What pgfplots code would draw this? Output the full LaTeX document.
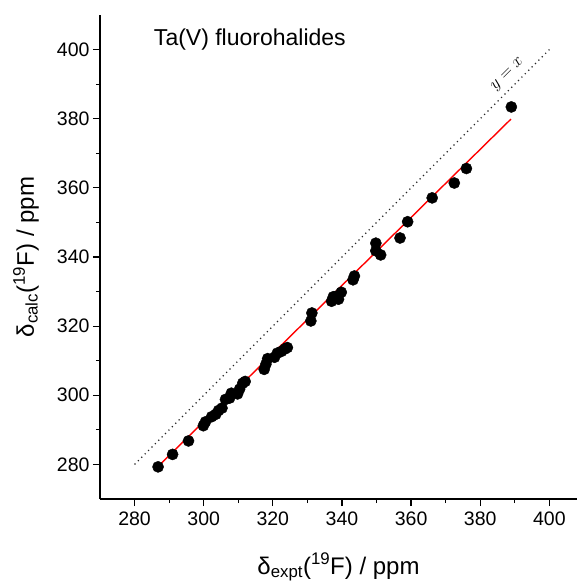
\documentclass[border=0pt]{standalone}
\usepackage{pgfplots}
\pgfplotsset{compat=1.18}
\usepackage{fontspec}
\setmainfont{Liberation Sans}
\begin{document}
\begin{tikzpicture}
\begin{axis}[
  scale only axis, width=477pt, height=484pt,
  xmin=270, xmax=408, ymin=270, ymax=410,
  axis x line*=bottom, axis y line*=left,
  axis line style={line width=1.2pt,-},
  xtick={280,300,...,400}, ytick={280,300,...,400},
  minor x tick num=1, minor y tick num=1,
  tick align=outside,
  major tick length=7pt, minor tick length=4pt,
  every tick/.style={line width=1.2pt, black},
  /pgf/number format/assume math mode=true,
  ticklabel style={font=\fontsize{19.5}{22}\selectfont},
  xticklabel style={yshift=-2pt},
  every axis x label/.style={at={(axis description cs:0.5,-0.155)}, anchor=base},
  every axis y label/.style={at={(axis description cs:-0.1384,0.5)}, anchor=base, rotate=90},
  label style={font=\fontsize{24}{28}\selectfont},
  xlabel={δ\textsubscript{expt}(\textsuperscript{19}F) / ppm},
  ylabel={δ\textsubscript{calc}(\textsuperscript{19}F) / ppm},
  clip=false,
]
\addplot[black!85, line width=1.2pt, dash pattern=on 1.2pt off 3.6pt] coordinates {(280,280) (400,400)};
\addplot[only marks, mark=*, mark size=5.6pt, black] table {
x y
286.8 279.3
291.0 282.9
295.6 286.8
299.9 291.2
300.5 292.3
302.3 293.8
303.5 294.5
304.3 295.6
305.3 296.3
306.3 298.8
307.5 299.2
308.0 300.6
309.8 300.4
310.4 301.8
311.3 303.5
312.0 304.0
317.5 307.5
318.0 309.0
318.5 310.6
320.5 311.0
321.3 312.2
322.5 312.7
323.5 313.4
324.2 313.8
331.0 321.5
331.3 323.8
337.0 327.2
337.5 328.5
338.2 328.6
339.0 327.8
339.8 329.8
343.2 333.4
343.6 334.5
349.8 344.0
349.8 341.8
351.2 340.6
356.8 345.5
359.0 350.2
366.1 357.1
372.5 361.4
376.0 365.6
389.0 383.4
};
\addplot[red, line width=1.4pt] coordinates {(286.8,279.4) (388.9,379.9)};
\node[anchor=base west, font=\fontsize{23}{27}\selectfont] at (axis cs:284.6,401.2) {Ta(V) fluorohalides};
\node[rotate=45, anchor=south, inner sep=6pt, font=\fontsize{19}{22}\selectfont] at (axis cs:390.4,390.4) {$y = x$};
\end{axis}
\pgfresetboundingbox
\path[use as bounding box] ([xshift=-100pt,yshift=-83pt]current axis.south west) rectangle ([yshift=15pt]current axis.north east);
\end{tikzpicture}
\end{document}
